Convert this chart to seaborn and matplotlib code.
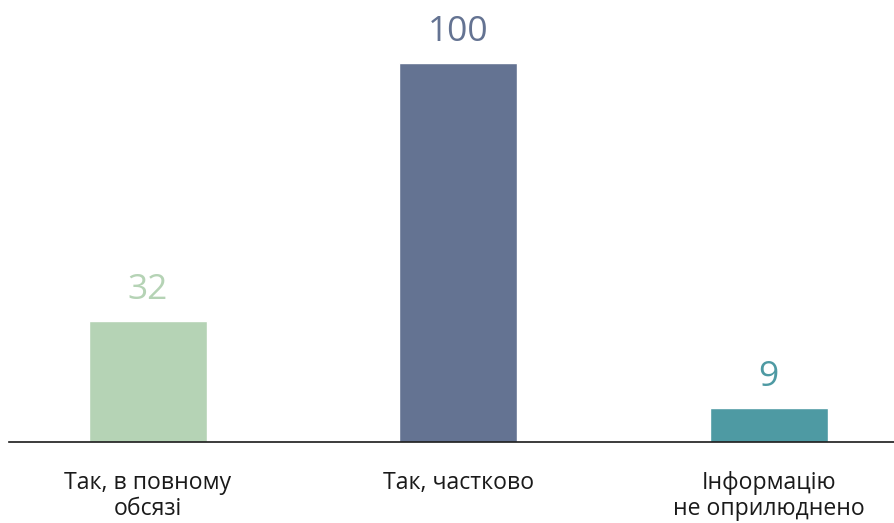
import matplotlib
matplotlib.use("Agg")
import matplotlib.pyplot as plt
import seaborn as sns
import pandas as pd

categories = ["Так, в повному\nобсязі", "Так, частково", "Інформацію\nне оприлюднено"]
values = [32, 100, 9]
colors = ["#b5d3b5", "#647392", "#4e9aa3"]

sns.set_theme(style="white")
plt.rcParams["font.family"] = ["Open Sans", "DejaVu Sans"]

df = pd.DataFrame({"cat": categories, "val": values})

fig = plt.figure(figsize=(8.94, 5.23), dpi=100)
ax = fig.add_axes([9 / 894, 1 - 442 / 523, (894 - 9) / 894, 442 / 523])

sns.barplot(data=df, x="cat", y="val", hue="cat", palette=colors,
            width=0.38, legend=False, ax=ax, saturation=1)

ax.set_xlim(-0.447, 2.403)
ax.set_ylim(0, 116.6)

for i, (v, c) in enumerate(zip(values, colors)):
    ax.annotate(str(v), (i, v), xytext=(0, 10), textcoords="offset points",
                ha="center", va="bottom", fontsize=25.5, color=c)

ax.set_xlabel("")
ax.set_ylabel("")
ax.set_yticks([])
ax.tick_params(axis="x", length=0, pad=21, labelsize=16.6, labelcolor="#1a1a1a")
for lbl in ax.get_xticklabels():
    lbl.set_linespacing(1.1)
for s in ["top", "right", "left"]:
    ax.spines[s].set_visible(False)
ax.spines["bottom"].set_color("#1a1a1a")
ax.spines["bottom"].set_linewidth(1.2)

fig.savefig("out.png", dpi=100)
